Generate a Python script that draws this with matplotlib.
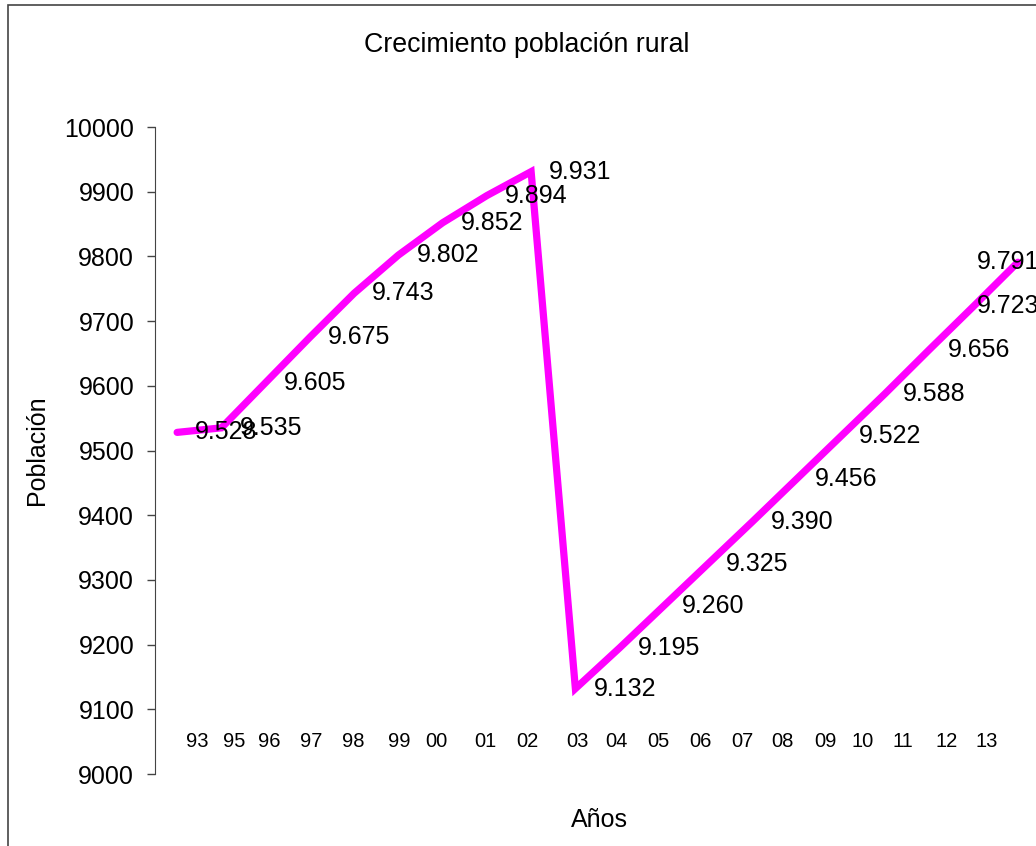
import matplotlib.pyplot as plt
from matplotlib.patches import Rectangle

# Data
years = ["93", "95", "96", "97", "98", "99", "00", "01", "02", "03",
         "04", "05", "06", "07", "08", "09", "10", "11", "12", "13"]
poblacion = [9528, 9535, 9605, 9675, 9743, 9802, 9852, 9894, 9931, 9132,
             9195, 9260, 9325, 9390, 9456, 9522, 9588, 9656, 9723, 9791]
# where the year labels sit along the category axis (as in the original)
label_pos = [0.45, 1.29, 2.08, 3.03, 3.98, 5.02, 5.85, 6.96, 7.91, 9.04,
             9.92, 10.87, 11.82, 12.77, 13.69, 14.66, 15.5, 16.4, 17.4, 18.3]

plt.rcParams["font.family"] = ["Liberation Sans", "DejaVu Sans"]

W, H = 1036, 846
fig = plt.figure(figsize=(W / 100, H / 100), dpi=100)

# chart area border (right/bottom fall outside the picture)
fig.patches.append(Rectangle((8 / W, -0.1), 1.2, 1 - 5 / H + 0.1,
                             transform=fig.transFigure, fill=False,
                             edgecolor="#444444", linewidth=1.2))

ax = fig.add_axes([155 / W, (H - 774) / H, 885 / W, 647 / H])

x = list(range(len(poblacion)))
ax.plot(x, poblacion, color="#FF00FF", linewidth=5.2, solid_capstyle="round",
        solid_joinstyle="miter", clip_on=False)

labels = []
for i, v in enumerate(poblacion):
    a = ax.annotate(f"{v:,}".replace(",", "."), (i, v), xytext=(13, 0),
                    textcoords="offset points", ha="left", va="center",
                    fontsize=18, color="black", annotation_clip=False)
    labels.append(a)

for p, lab in zip(label_pos, years):
    ax.text(p, 0.051, lab, transform=ax.get_xaxis_transform(),
            ha="center", va="center", fontsize=14.5)

ax.set_xlim(-0.5, 19.5)
ax.set_ylim(9000, 10000)
ax.set_yticks(range(9000, 10001, 100))
ax.set_xticks([])
ax.tick_params(axis="y", direction="out", length=6, width=1, pad=9,
               labelsize=18, color="#444444")
for s in ["top", "right", "bottom"]:
    ax.spines[s].set_visible(False)
ax.spines["left"].set_color("#444444")

fig.text(527 / W, 1 - 45 / H, "Crecimiento población rural",
         ha="center", va="center", fontsize=19.3)
fig.text(599 / W, 1 - 820 / H, "Años", ha="center", va="center", fontsize=18)
fig.text(37 / W, 1 - 450 / H, "Población", ha="center", va="center",
         fontsize=18, rotation=90)

# keep data labels inside the chart area, like Excel does
renderer = fig.canvas.get_renderer()
limit = 1039
for a in labels:
    bb = a.get_window_extent(renderer)
    if bb.x1 > limit:
        shift = (bb.x1 - limit) * 72 / fig.dpi
        a.set_position((13 - shift, 0))

fig.savefig("out.png", dpi=100)
